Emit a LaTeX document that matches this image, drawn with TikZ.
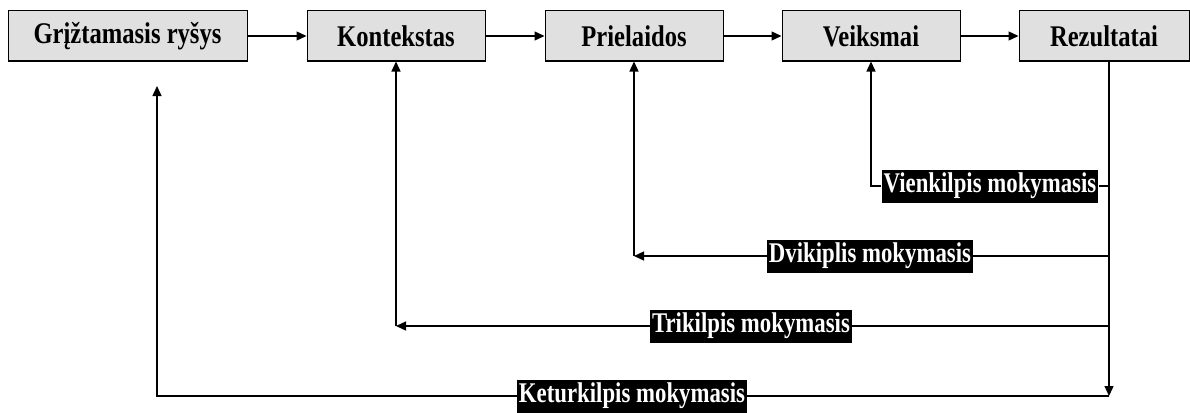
\documentclass[tikz,border=0pt]{standalone}
\usepackage{fontspec}
\setmainfont{Liberation Serif}
\newfontfamily\stagefont[FakeStretch=0.82]{Liberation Serif}
\newfontfamily\loopfont[FakeStretch=0.8]{Liberation Serif}
\usetikzlibrary{positioning, arrows.meta}

\begin{document}
\begin{tikzpicture}[
  x=1pt, y=-1pt,
  stage/.style={
    draw=black, fill=black!12, line width=1pt,
    minimum width=178pt, minimum height=50pt, inner sep=0pt,
    font=\stagefont\bfseries\fontsize{30}{32}\selectfont
  },
  looplabel/.style={
    fill=black, text=white, inner sep=2pt, minimum height=33pt,
    font=\loopfont\bfseries\fontsize{28.5}{30}\selectfont
  },
  flow/.style={-{Triangle[length=10pt, width=9pt]}, line width=1.3pt},
  link/.style={line width=1.3pt},
]

% Page frame
\fill[white] (0,0) rectangle (1190,412);
\useasboundingbox (0,0) rectangle (1190,412);

% Stages along the top
\node[stage, minimum width=239pt] (feedback) at (127.5,36) {Grįžtamasis ryšys};
\node[stage] (context) at (396,36) {Kontekstas};
\node[stage] (assume) at (634,36) {Prielaidos};
\node[stage] (action) at (871,36) {Veiksmai};
\node[stage, minimum width=170pt] (result) at (1104,36) {Rezultatai};

\draw[flow] (feedback) -- (context);
\draw[flow] (context) -- (assume);
\draw[flow] (assume) -- (action);
\draw[flow] (action) -- (result);

% Learning loops
\node[looplabel] (single) at (990,186) {Vienkilpis mokymasis};
\node[looplabel] (double) at (870,256) {Dvikiplis mokymasis};
\node[looplabel] (triple) at (751,326) {Trikilpis mokymasis};
\node[looplabel] (quad) at (632,396) {Keturkilpis mokymasis};

\coordinate (down) at (1109,396);
\coordinate (dcorner) at (double -| assume);
\coordinate (tcorner) at (triple -| context);
\coordinate (qend) at (157,86);

\draw[flow] (result.south -| down) -- (down);

\draw[link] (single -| down) -- (single);
\draw[flow] (single) -| (action);

\draw[link] (double -| down) -- (double);
\draw[flow] (double) -- (dcorner);
\draw[flow] (dcorner) -- (assume);

\draw[link] (triple -| down) -- (triple);
\draw[flow] (triple) -- (tcorner);
\draw[flow] (tcorner) -- (context);

\draw[link] (down) -- (quad);
\draw[flow] (quad) -| (qend);

\end{tikzpicture}
\end{document}
